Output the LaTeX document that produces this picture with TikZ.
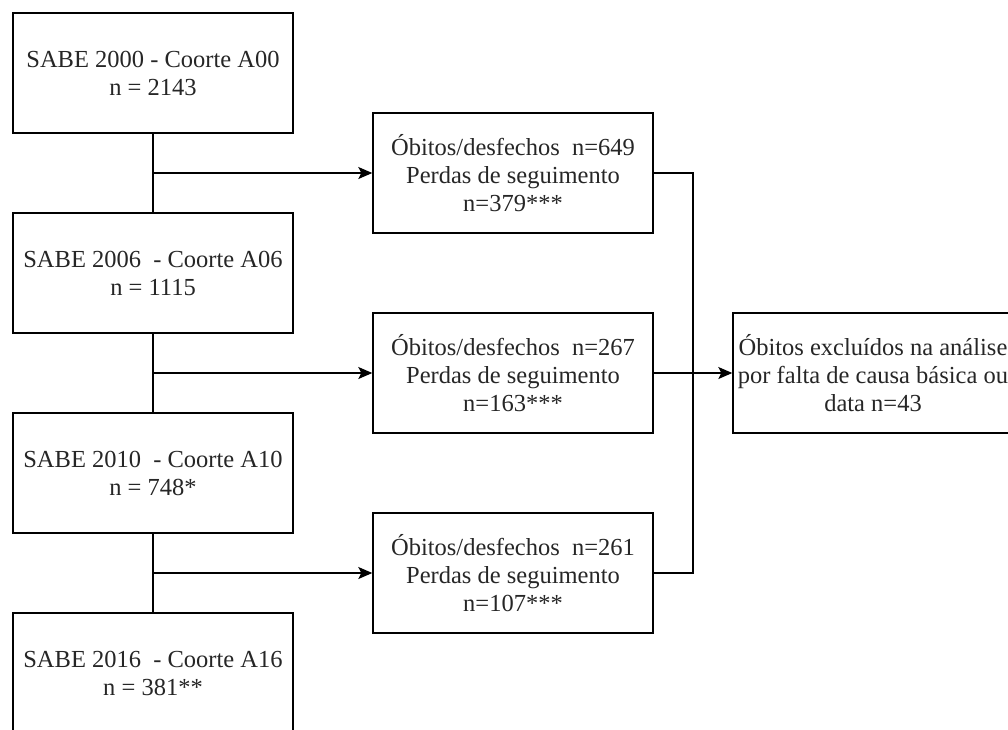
\documentclass[tikz,border=0pt]{standalone}
\usepackage{fontspec}
\setmainfont{Liberation Serif}
\usetikzlibrary{arrows.meta}
\begin{document}
\begin{tikzpicture}[x=1pt,y=-1pt,
  box/.style={draw=black, line width=1.4pt, minimum width=280pt, minimum height=120pt,
    inner sep=0pt, align=center, text=black!85, font=\fontsize{24.5}{28}\selectfont},
  conn/.style={line width=1.4pt},
  arr/.style={conn, -{Stealth[length=14pt,width=12pt,inset=3pt]}}]
\useasboundingbox (0,0) rectangle (1008,729);
\clip (0,0) rectangle (1008,729);
\node[box] (l1) at (153,73) {SABE 2000 - Coorte A00\\n = 2143};
\node[box] (l2) at (153,273) {SABE 2006 \ - Coorte A06\\n = 1115};
\node[box] (l3) at (153,473) {SABE 2010 \ - Coorte A10\\n = 748*};
\node[box] (l4) at (153,673) {SABE 2016 \ - Coorte A16\\n = 381**};
\node[box] (m1) at (513,173) {Óbitos/desfechos \ n=649\\Perdas de seguimento\\n=379***};
\node[box] (m2) at (513,373) {Óbitos/desfechos \ n=267\\Perdas de seguimento\\n=163***};
\node[box] (m3) at (513,573) {Óbitos/desfechos \ n=261\\Perdas de seguimento\\n=107***};
\node[box] (r) at (873,373) {Óbitos excluídos na análise\\por falta de causa básica ou\\data n=43};
\coordinate (j1) at (153,173);
\coordinate (j2) at (153,373);
\coordinate (j3) at (153,573);
\coordinate (k) at (693,373);
\draw[conn] (l1) -- (l2);
\draw[conn] (l2) -- (l3);
\draw[conn] (l3) -- (l4);
\draw[arr] (j1) -- (m1);
\draw[arr] (j2) -- (m2);
\draw[arr] (j3) -- (m3);
\draw[conn] (m1.east) -| (k);
\draw[conn] (m3.east) -| (k);
\draw[arr] (m2) -- (r);
\end{tikzpicture}
\end{document}
